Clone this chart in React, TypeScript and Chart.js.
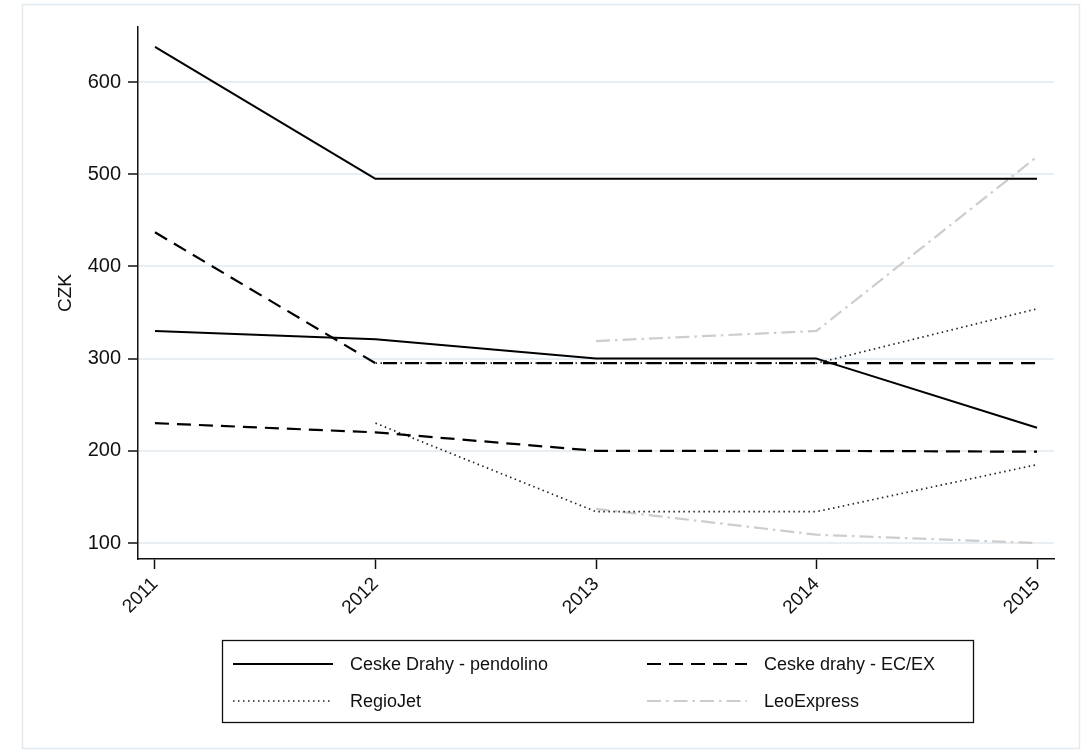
import React, { useEffect, useRef } from "react";
import { Chart, registerables } from "chart.js";

Chart.register(...registerables);

// ---- data ----
const years = [2011, 2012, 2013, 2014, 2015];
const yTickValues = [100, 200, 300, 400, 500, 600];
const seriesLabels = ["Ceske Drahy - pendolino", "Ceske drahy - EC/EX", "RegioJet", "LeoExpress"];
const yAxisTitle = "CZK";

const pendolinoHigh = [638, 495, 495, 495, 495];
const pendolinoLow = [330, 321, 300, 300, 225];
const ecexHigh = [437, 295, 295, 295, 295];
const ecexLow = [230, 220, 200, 200, 199];
const regioJetHigh = [null, 295, 295, 295, 354];
const regioJetLow = [null, 230, 134, 134, 185];
const leoExpressHigh = [null, null, 319, 330, 519];
const leoExpressLow = [null, null, 137, 109, 100];

const seriesGroups = [
  [pendolinoHigh, pendolinoLow],
  [ecexHigh, ecexLow],
  [regioJetHigh, regioJetLow],
  [leoExpressHigh, leoExpressLow],
];

// ---- styles ----
const FONT = '"Liberation Sans", Arial, Helvetica, sans-serif';
const lineStyles = [
  { color: "#000000", dash: [] as number[], width: 2 },
  { color: "#000000", dash: [14, 8], width: 2.2 },
  { color: "#222222", dash: [1.5, 3.5], width: 1.7 },
  { color: "#cdcdcd", dash: [14, 5, 2.5, 5], width: 2.2 },
];

const toPoints = (arr: (number | null)[]) =>
  years
    .map((x, i) => ({ x, y: arr[i] }))
    .filter((p) => p.y !== null);

const framePlugin = {
  id: "frame",
  beforeDraw(chart: any) {
    const ctx = chart.ctx;
    ctx.save();
    ctx.fillStyle = "#ffffff";
    ctx.fillRect(0, 0, chart.width, chart.height);
    ctx.strokeStyle = "#e3eaef";
    ctx.lineWidth = 1.5;
    ctx.strokeRect(22.5, 4.5, 1057, 744);
    ctx.restore();
  },
};

const legendPlugin = {
  id: "stataLegend",
  afterDraw(chart: any) {
    const ctx = chart.ctx;
    ctx.save();
    ctx.strokeStyle = "#111111";
    ctx.lineWidth = 1.3;
    ctx.strokeRect(222.5, 640.5, 751, 82);
    ctx.font = `18px ${FONT}`;
    ctx.textBaseline = "middle";
    ctx.textAlign = "left";
    seriesLabels.forEach((label, i) => {
      const col = i % 2;
      const row = Math.floor(i / 2);
      const keyX = col === 0 ? 233 : 647;
      const y = row === 0 ? 664 : 701;
      const st = lineStyles[i];
      ctx.beginPath();
      ctx.setLineDash(st.dash);
      ctx.strokeStyle = st.color;
      ctx.lineWidth = st.width;
      ctx.moveTo(keyX, y);
      ctx.lineTo(keyX + 100, y);
      ctx.stroke();
      ctx.setLineDash([]);
      ctx.fillStyle = "#111111";
      ctx.fillText(label, keyX + 117, y + 1);
    });
    ctx.restore();
  },
};

export default function App() {
  const canvasRef = useRef<HTMLCanvasElement | null>(null);

  useEffect(() => {
    document.body.style.margin = "0";
    const canvas = canvasRef.current;
    if (!canvas) return;

    const datasets = seriesGroups.flatMap((group, gi) =>
      group.map((arr) => ({
        label: seriesLabels[gi],
        data: toPoints(arr),
        borderColor: lineStyles[gi].color,
        borderDash: lineStyles[gi].dash,
        borderWidth: lineStyles[gi].width,
        borderCapStyle: "butt",
        borderJoinStyle: "round",
        pointRadius: 0,
        pointHoverRadius: 0,
        fill: false,
        tension: 0,
        spanGaps: false,
      }))
    );

    const chart = new Chart(canvas, {
      type: "line",
      data: { datasets } as any,
      options: {
        animation: false,
        responsive: false,
        devicePixelRatio: 1,
        layout: { padding: { left: 50, top: 27, right: 35, bottom: 136 } },
        plugins: {
          legend: { display: false },
          tooltip: { enabled: false },
        },
        scales: {
          x: {
            type: "linear",
            min: 2010.923,
            max: 2015.077,
            afterBuildTicks: (s: any) => {
              s.ticks = years.map((v) => ({ value: v }));
            },
            afterFit: (s: any) => {
              s.height = 60;
            },
            ticks: {
              autoSkip: false,
              minRotation: 45,
              maxRotation: 45,
              padding: 4,
              color: "#111111",
              font: { family: FONT, size: 19 },
              callback: (v: any) => String(v),
            },
            grid: {
              display: true,
              drawOnChartArea: false,
              drawTicks: true,
              tickLength: 10,
              tickColor: "#111111",
              tickWidth: 1.5,
            },
            border: { display: true, color: "#111111", width: 1.5 },
          },
          y: {
            type: "linear",
            min: 82.65,
            max: 659.65,
            afterBuildTicks: (s: any) => {
              s.ticks = yTickValues.map((v) => ({ value: v }));
            },
            afterFit: (s: any) => {
              s.width = 88;
            },
            ticks: {
              padding: 7,
              color: "#111111",
              font: { family: FONT, size: 20 },
              callback: (v: any) => String(v),
            },
            grid: {
              display: true,
              drawOnChartArea: true,
              drawTicks: true,
              tickLength: 10,
              color: "#e8eef2",
              lineWidth: 2,
              tickColor: "#111111",
              tickWidth: 1.5,
            },
            border: { display: true, color: "#111111", width: 1.5 },
            title: {
              display: true,
              text: yAxisTitle,
              color: "#111111",
              font: { family: FONT, size: 19 },
            },
          },
        },
      } as any,
      plugins: [framePlugin, legendPlugin],
    });

    return () => chart.destroy();
  }, []);

  return (
    <div style={{ width: 1089, height: 755 }}>
      <canvas ref={canvasRef} width={1089} height={755} style={{ display: "block" }} />
    </div>
  );
}
